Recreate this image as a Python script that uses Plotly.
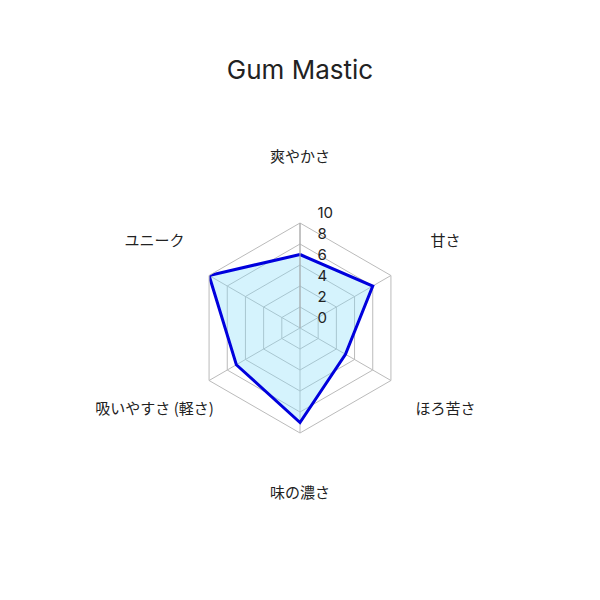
import plotly.graph_objects as go

categories = ["爽やかさ", "甘さ", "ほろ苦さ", "味の濃さ", "吸いやすさ (軽さ)", "ユニーク"]
values = [7, 8, 5, 9, 7, 10]
radial_ticks = [0, 2, 4, 6, 8, 10]
title_text = "Gum Mastic"

r_closed = values + values[:1]
theta_closed = categories + categories[:1]

jp_font = "Noto Sans CJK JP, Noto Sans, sans-serif"
latin_font = "Inter, Noto Sans CJK JP, sans-serif"

# page offset compensation (figure drawn inside body margin)
cx, cy = 292, 320          # chart centre in figure pixels (from top-left)
R_grid = 105               # radius of the 0-10 grid
R_label = 168              # radius of the category label ring
label_lift = 2             # category ring raised slightly
tick_lift = 10             # radial tick labels raised above their rings

def dom(radius, lift=0):
    c = cy - lift
    return dict(x=[(cx - radius) / 600, (cx + radius) / 600],
                y=[(600 - c - radius) / 600, (600 - c + radius) / 600])

fig = go.Figure()
fig.add_trace(go.Scatterpolar(
    r=r_closed,
    theta=theta_closed,
    mode="lines",
    fill="toself",
    fillcolor="rgba(135,220,250,0.35)",
    line=dict(color="#0000dd", width=3),
    showlegend=False,
    hoverinfo="skip",
    subplot="polar",
))
fig.add_trace(go.Scatterpolar(
    r=[1] * len(categories),
    theta=categories,
    text=categories,
    mode="text",
    textposition="middle center",
    textfont=dict(family=jp_font, size=15, color="#222"),
    cliponaxis=False,
    showlegend=False,
    hoverinfo="skip",
    subplot="polar2",
))
# carrier for the radial tick labels (drawn by polar3's axis)
fig.add_trace(go.Scatterpolar(
    r=[None], theta=[categories[0]], mode="lines",
    showlegend=False, hoverinfo="skip", subplot="polar3",
))

fig.update_layout(
    width=600, height=600,
    paper_bgcolor="white",
    plot_bgcolor="white",
    margin=dict(l=0, r=0, t=0, b=0),
    font=dict(family=jp_font, size=14, color="#222"),
    title=dict(text=title_text, x=cx / 600, xanchor="center", y=1 - 62 / 600, yanchor="middle",
               font=dict(size=26, color="#222", family=latin_font)),
    polar=dict(
        domain=dom(R_grid),
        bgcolor="rgba(0,0,0,0)",
        gridshape="linear",
        radialaxis=dict(
            range=[0, 10],
            tickvals=radial_ticks,
            angle=90,
            showline=True,
            linecolor="#aaa",
            gridcolor="#bbb",
            ticks="",
            showticklabels=False,
        ),
        angularaxis=dict(
            direction="clockwise",
            rotation=90,
            gridcolor="#bbb",
            linecolor="#bbb",
            showline=True,
            showticklabels=False,
            ticks="",
        ),
    ),
    polar2=dict(
        domain=dom(R_label, label_lift),
        bgcolor="rgba(0,0,0,0)",
        radialaxis=dict(range=[0, 1], visible=False),
        angularaxis=dict(direction="clockwise", rotation=90, visible=False),
    ),
    polar3=dict(
        domain=dom(R_grid, tick_lift),
        bgcolor="rgba(0,0,0,0)",
        gridshape="linear",
        radialaxis=dict(
            range=[0, 10],
            tickvals=radial_ticks,
            ticktext=[str(v) for v in radial_ticks],
            angle=90,
            tickangle=90,
            showline=False,
            showgrid=False,
            ticks="outside",
            ticklen=14,
            tickcolor="rgba(0,0,0,0)",
            tickfont=dict(size=15, color="#222", family=latin_font),
            side="clockwise",
        ),
        angularaxis=dict(direction="clockwise", rotation=90, showgrid=False,
                         showline=False, showticklabels=False, ticks=""),
    ),
)

fig.write_html("out.html")
